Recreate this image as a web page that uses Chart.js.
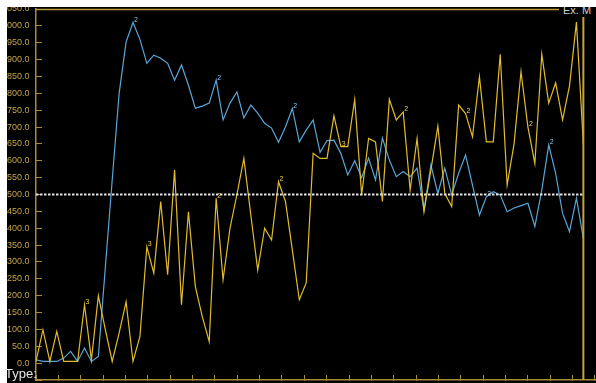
<!DOCTYPE html>
<html>
<head>
<meta charset="utf-8">
<script src="https://cdn.jsdelivr.net/npm/chart.js@4"></script>
<style>
  html, body { margin: 0; padding: 0; background: #fff; width: 596px; height: 383px; overflow: hidden; }
  #panel { position: absolute; left: 7px; top: 7px; width: 589px; height: 376px; background: #000; overflow: hidden; }
  #plot { position: absolute; left: -8px; top: 0; }
  #typeLbl { position: absolute; left: 5px; top: 366px; color: #e6e6e6; font: 13px "Liberation Sans", Arial, sans-serif; }
  #exLbl { position: absolute; left: 552px; top: -3px; width: 40px; height: 13px; background: #000; color: #cfcfcf;
           font: 11px "Liberation Sans", Arial, sans-serif; line-height: 13px; padding-left: 4px; white-space: nowrap; }
</style>
</head>
<body>
<div id="panel">
  <canvas id="plot" width="619" height="376"></canvas>
  <div id="exLbl">Ex. M</div>
</div>
<div id="typeLbl">Type:</div>
<script>
// Sampled readings of the two channels (one value per sample index)
const blueSeries = [
  10, 5, 5, 5, 15, 35, 5, 45, 5, 20,
  282, 543, 800, 952, 1010, 960, 889, 913, 904, 889,
  839, 884, 824, 756, 762, 771, 839, 721, 771, 804,
  727, 765, 741, 711, 697, 655, 700, 755, 656, 691,
  721, 625, 660, 661, 622, 558, 600, 550, 608, 543,
  667, 602, 553, 568, 553, 578, 454, 587, 503, 578,
  499, 563, 617, 528, 439, 493, 508, 499, 449, 460,
  467, 474, 405, 513, 647, 563, 444, 390, 489, 370
];
const yellowSeries = [
  5, 99, 5, 94, 5, 5, 5, 173, 10, 200,
  100, 5, 90, 182, 5, 79, 345, 267, 479, 262,
  573, 173, 449, 227, 138, 64, 489, 247, 400, 500,
  607, 440, 276, 400, 365, 538, 480, 335, 188, 238,
  622, 607, 607, 733, 642, 642, 782, 499, 666, 656,
  479, 782, 721, 745, 513, 666, 449, 573, 703, 503,
  464, 765, 740, 671, 849, 656, 656, 916, 528, 650,
  864, 700, 592, 916, 771, 831, 721, 822, 1011, 650
];

// Small event tags attached to individual samples
const blueTagIndex = [14, 26, 37, 65, 74];
const blueTagText  = ['2', '2', '2', '2', '2'];
const yellowTagIndex = [7, 16, 26, 35, 44, 53, 62, 71];
const yellowTagText  = ['3', '3', '2', '2', '3', '2', '2', '2'];

// Axis settings
const yMin = -50, yMax = 1050, yStep = 50;
const xMin = 0, xMax = 84, xTickStep = 3.227;
const referenceLevel = 500;   // dashed horizontal level
const markerSample = 79;      // vertical marker position

const axisColor = '#a88c38';
const labelColor = '#c4a448';
const blueColor = '#5aa6d8';
const yellowColor = '#e2bc2c';

const toPoints = arr => arr.map((v, i) => ({ x: i, y: v }));

// Top frame line of the plot area
const frameTop = {
  id: 'frameTop',
  afterDatasetsDraw(chart) {
    const { ctx, chartArea } = chart;
    ctx.save();
    ctx.strokeStyle = '#b89c3c';
    ctx.lineWidth = 1.5;
    ctx.beginPath();
    ctx.moveTo(chartArea.left, chartArea.top + 0.5);
    ctx.lineTo(chartArea.right, chartArea.top + 0.5);
    ctx.stroke();
    ctx.restore();
  }
};

// Tiny tags next to selected samples
const sampleTags = {
  id: 'sampleTags',
  afterDatasetsDraw(chart) {
    const { ctx } = chart;
    const xs = chart.scales.x, ys = chart.scales.y;
    ctx.save();
    ctx.font = '7px "Liberation Sans", Arial, sans-serif';
    ctx.textAlign = 'left';
    ctx.textBaseline = 'bottom';
    const draw = (series, idx, txt, color) => {
      idx.forEach((i, k) => {
        ctx.fillStyle = color;
        ctx.fillText(txt[k], xs.getPixelForValue(i) + 1, ys.getPixelForValue(series[i]) + 1);
      });
    };
    draw(blueSeries, blueTagIndex, blueTagText, '#8cc4ec');
    draw(yellowSeries, yellowTagIndex, yellowTagText, '#f0d050');
    ctx.restore();
  }
};

new Chart(document.getElementById('plot'), {
  type: 'line',
  data: {
    datasets: [
      {
        label: 'Channel B',
        data: toPoints(blueSeries),
        borderColor: blueColor,
        borderWidth: 1.2,
        pointRadius: 0,
        tension: 0,
        order: 4
      },
      {
        label: 'Channel A',
        data: toPoints(yellowSeries),
        borderColor: yellowColor,
        borderWidth: 1.2,
        pointRadius: 0,
        tension: 0,
        order: 3
      },
      {
        label: 'Level',
        data: [{ x: xMin, y: referenceLevel }, { x: markerSample, y: referenceLevel }],
        borderColor: '#e4e4e4',
        borderWidth: 2,
        borderDash: [2.5, 1.5],
        pointRadius: 0,
        order: 2
      },
      {
        label: 'Marker',
        data: [{ x: markerSample, y: yMin }, { x: markerSample, y: yMax }],
        borderColor: '#c4a440',
        borderWidth: 2,
        pointRadius: 0,
        order: 1
      }
    ]
  },
  options: {
    responsive: false,
    animation: false,
    devicePixelRatio: 1,
    layout: { padding: { top: 2, left: 0, right: 0, bottom: 0 } },
    plugins: { legend: { display: false }, tooltip: { enabled: false } },
    scales: {
      x: {
        type: 'linear',
        min: xMin,
        max: xMax,
        grid: { display: true, drawOnChartArea: false, drawTicks: true, tickLength: -5, color: axisColor, lineWidth: 1 },
        border: { display: true, color: axisColor, width: 1.5 },
        ticks: { display: false, stepSize: xTickStep },
        afterFit(scale) { scale.height = 3; scale.paddingLeft = 0; scale.paddingRight = 0; }
      },
      y: {
        type: 'linear',
        min: yMin,
        max: yMax,
        grid: { display: true, drawOnChartArea: false, drawTicks: true, tickLength: -6, color: axisColor, lineWidth: 1 },
        border: { display: true, color: axisColor, width: 1.5 },
        ticks: {
          stepSize: yStep,
          padding: 12.5,
          color: labelColor,
          font: { family: '"Liberation Sans", Arial, sans-serif', size: 9 },
          autoSkip: false,
          callback: v => (v < 0 ? '' : Number(v).toFixed(1))
        },
        afterFit(scale) { scale.width = 37; scale.paddingTop = 0; scale.paddingBottom = 0; }
      }
    }
  },
  plugins: [frameTop, sampleTags]
});
</script>
</body>
</html>
